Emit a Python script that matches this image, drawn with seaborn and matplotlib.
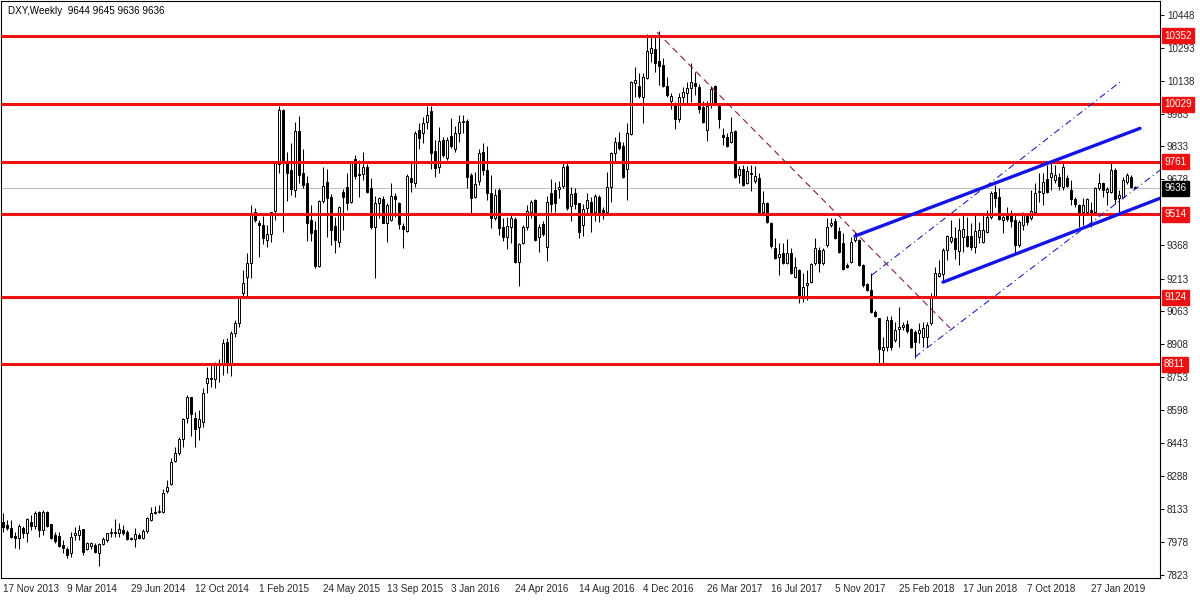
import matplotlib
matplotlib.use("Agg")
import matplotlib.pyplot as plt
import matplotlib.transforms as mtransforms
import numpy as np
import seaborn as sns

symbol = "DXY,Weekly"
last_quote = [9644, 9645, 9636, 9636]

# weekly candles, prices x100 (first bar: week of 17 Nov 2013)
opens = [
    8073, 8057, 8045, 8006, 7995, 8045, 8021, 8073, 8053, 8120, 8034, 8120,
    8062, 8010, 8006, 7964, 7943, 7925, 8010, 8010, 8037, 7943, 7959, 7964,
    7928, 7968, 7987, 8021, 8021, 8018, 8034, 8026, 7990, 7990, 8010, 7995,
    8031, 8081, 8112, 8120, 8120, 8215, 8250, 8359, 8393, 8459, 8557, 8656,
    8557, 8515, 8542, 8721, 8745, 8740, 8807, 8815, 8917, 8812, 8959, 9006,
    9143, 9221, 9284, 9526, 9474, 9464, 9393, 9424, 9531, 9750, 10003, 9753,
    9721, 9628, 9906, 9706, 9659, 9487, 9440, 9271, 9578, 9667, 9593, 9459,
    9385, 9620, 9640, 9573, 9771, 9702, 9702, 9737, 9636, 9453, 9565, 9584,
    9475, 9487, 9600, 9568, 9459, 9437, 9682, 9662, 9909, 9893, 9948, 9999,
    9810, 9734, 9862, 9776, 9881, 9818, 9893, 9948, 9952, 9698, 9596, 9671,
    9807, 9721, 9612, 9495, 9628, 9453, 9406, 9453, 9490, 9292, 9381, 9453,
    9526, 9581, 9406, 9468, 9362, 9615, 9628, 9631, 9646, 9740, 9553, 9612,
    9565, 9464, 9542, 9573, 9526, 9596, 9534, 9526, 9643, 9800, 9854, 9834,
    9725, 9890, 10131, 10115, 10065, 10151, 10271, 10287, 10234, 10214, 10115, 10046,
    10026, 9959, 10065, 10081, 10104, 10131, 10112, 10018, 9909, 10037, 10115, 10021,
    9886, 9878, 9854, 9906, 9698, 9725, 9659, 9709, 9671, 9682, 9526, 9568,
    9474, 9354, 9312, 9334, 9287, 9334, 9218, 9253, 9131, 9182, 9198, 9287,
    9346, 9284, 9370, 9464, 9484, 9437, 9378, 9276, 9292, 9393, 9393, 9276,
    9187, 9159, 9057, 9026, 8878, 8893, 9018, 8925, 8975, 8984, 8999, 8975,
    8964, 8956, 8940, 8940, 9006, 9128, 9225, 9234, 9346, 9390, 9401, 9343,
    9409, 9412, 9412, 9359, 9406, 9386, 9432, 9500, 9620, 9593, 9487, 9511,
    9506, 9487, 9370, 9464, 9506, 9495, 9526, 9620, 9612, 9678, 9687, 9675,
    9690, 9643, 9682, 9628, 9584, 9557, 9526, 9526, 9534, 9526, 9636, 9662,
    9620, 9620, 9721, 9589, 9596, 9667, 9690, 9644,
]
highs = [
    8112, 8081, 8081, 8026, 8060, 8053, 8090, 8104, 8125, 8125, 8128, 8125,
    8062, 8026, 8026, 7987, 7953, 8026, 8050, 8057, 8037, 7979, 7979, 7971,
    7971, 8003, 8021, 8042, 8085, 8065, 8057, 8034, 8000, 8042, 8018, 8037,
    8096, 8143, 8148, 8151, 8225, 8268, 8370, 8425, 8471, 8557, 8667, 8659,
    8589, 8596, 8698, 8800, 8815, 8823, 8834, 8928, 8932, 8968, 9018, 9128,
    9253, 9334, 9557, 9542, 9487, 9506, 9464, 9526, 9760, 10021, 10010, 9807,
    9850, 9945, 9974, 9818, 9693, 9557, 9484, 9581, 9734, 9725, 9609, 9503,
    9553, 9631, 9706, 9760, 9792, 9768, 9807, 9750, 9682, 9600, 9596, 9600,
    9568, 9659, 9612, 9573, 9475, 9703, 9760, 9906, 9940, 9968, 10021, 10021,
    9862, 9921, 9878, 9875, 9964, 9928, 9979, 9979, 9960, 9709, 9714, 9818,
    9850, 9834, 9698, 9631, 9635, 9495, 9503, 9518, 9500, 9378, 9464, 9557,
    9581, 9585, 9468, 9484, 9600, 9678, 9667, 9671, 9753, 9753, 9640, 9635,
    9568, 9562, 9612, 9596, 9609, 9604, 9550, 9714, 9807, 9875, 9901, 9854,
    9943, 10140, 10206, 10175, 10175, 10359, 10346, 10354, 10375, 10245, 10156, 10081,
    10042, 10081, 10112, 10135, 10221, 10182, 10125, 10046, 10046, 10115, 10120, 10034,
    9917, 9896, 9968, 9910, 9740, 9745, 9740, 9745, 9740, 9709, 9625, 9573,
    9478, 9401, 9381, 9381, 9397, 9354, 9315, 9256, 9237, 9253, 9284, 9401,
    9362, 9354, 9495, 9495, 9495, 9456, 9425, 9284, 9409, 9430, 9396, 9280,
    9190, 9237, 9065, 9030, 8940, 9037, 9037, 9010, 9081, 9010, 9018, 8979,
    8972, 9003, 9010, 9010, 9143, 9268, 9300, 9354, 9417, 9487, 9456, 9495,
    9510, 9503, 9475, 9518, 9479, 9518, 9534, 9625, 9651, 9635, 9510, 9550,
    9534, 9518, 9487, 9526, 9521, 9628, 9659, 9706, 9706, 9745, 9753, 9745,
    9706, 9753, 9698, 9675, 9596, 9560, 9589, 9589, 9573, 9640, 9709, 9667,
    9643, 9756, 9729, 9628, 9690, 9706, 9698, 9645,
]
lows = [
    8026, 8034, 7995, 7948, 7943, 7995, 7979, 8034, 8037, 8003, 8010, 8046,
    7990, 7971, 7956, 7925, 7901, 7909, 7987, 7987, 7917, 7940, 7943, 7925,
    7865, 7964, 7979, 8003, 8003, 8003, 8010, 7987, 7987, 7956, 7990, 7990,
    8021, 8078, 8109, 8115, 8115, 8206, 8245, 8354, 8386, 8421, 8534, 8475,
    8425, 8456, 8515, 8675, 8706, 8698, 8729, 8760, 8768, 8756, 8940, 8984,
    9131, 9131, 9214, 9479, 9315, 9375, 9362, 9385, 9487, 9706, 9432, 9578,
    9604, 9593, 9662, 9635, 9390, 9390, 9260, 9265, 9568, 9409, 9370, 9331,
    9359, 9440, 9534, 9565, 9678, 9596, 9675, 9615, 9443, 9214, 9495, 9471,
    9385, 9484, 9500, 9443, 9354, 9432, 9620, 9640, 9818, 9850, 9912, 9725,
    9687, 9706, 9784, 9768, 9823, 9807, 9854, 9896, 9635, 9521, 9589, 9651,
    9698, 9581, 9448, 9487, 9417, 9390, 9350, 9378, 9287, 9178, 9375, 9440,
    9495, 9390, 9339, 9412, 9296, 9526, 9526, 9589, 9636, 9534, 9484, 9537,
    9401, 9412, 9510, 9432, 9484, 9479, 9490, 9510, 9573, 9753, 9815, 9682,
    9581, 9885, 10065, 10057, 9940, 10146, 10229, 10182, 10120, 10112, 10062, 10010,
    9912, 9948, 10026, 10034, 10042, 10073, 9990, 9940, 9859, 10011, 10026, 9917,
    9839, 9831, 9846, 9682, 9659, 9646, 9656, 9625, 9662, 9521, 9521, 9474,
    9354, 9303, 9229, 9281, 9281, 9234, 9214, 9096, 9104, 9112, 9190, 9276,
    9245, 9278, 9362, 9453, 9396, 9334, 9253, 9264, 9287, 9385, 9271, 9174,
    9156, 9053, 9034, 8815, 8815, 8875, 8878, 8917, 8893, 8971, 8956, 8885,
    8839, 8909, 8893, 8893, 8995, 9124, 9221, 9198, 9300, 9381, 9303, 9276,
    9339, 9359, 9346, 9331, 9378, 9378, 9428, 9490, 9550, 9487, 9425, 9484,
    9456, 9331, 9362, 9440, 9464, 9487, 9518, 9573, 9557, 9612, 9628, 9659,
    9628, 9628, 9643, 9557, 9550, 9453, 9464, 9518, 9456, 9521, 9628, 9596,
    9557, 9615, 9562, 9521, 9589, 9656, 9636, 9636,
]
closes = [
    8050, 8042, 8003, 7995, 8053, 8021, 8084, 8053, 8112, 8034, 8120, 8053,
    7995, 7984, 7959, 7948, 7917, 8003, 8021, 8034, 7932, 7971, 7975, 7932,
    7968, 7990, 8018, 8024, 8026, 8037, 8021, 7990, 7995, 8013, 7995, 8031,
    8089, 8115, 8120, 8125, 8209, 8234, 8354, 8397, 8459, 8553, 8656, 8578,
    8506, 8553, 8678, 8745, 8740, 8807, 8815, 8912, 8815, 8959, 9006, 9120,
    9193, 9284, 9515, 9487, 9464, 9401, 9421, 9526, 9753, 10003, 9753, 9706,
    9631, 9906, 9698, 9651, 9474, 9428, 9271, 9578, 9646, 9589, 9440, 9393,
    9550, 9596, 9565, 9756, 9693, 9696, 9734, 9620, 9456, 9568, 9589, 9475,
    9557, 9600, 9584, 9468, 9443, 9693, 9667, 9896, 9874, 9940, 9979, 9803,
    9729, 9859, 9792, 9862, 9834, 9893, 9948, 9952, 9690, 9589, 9656, 9800,
    9721, 9612, 9495, 9604, 9448, 9409, 9459, 9495, 9292, 9375, 9453, 9531,
    9573, 9393, 9456, 9421, 9573, 9562, 9568, 9640, 9734, 9542, 9609, 9562,
    9432, 9537, 9581, 9526, 9600, 9526, 9526, 9640, 9800, 9854, 9823, 9690,
    9893, 10135, 10143, 10068, 10156, 10281, 10292, 10225, 10209, 10115, 10073, 10068,
    9959, 10065, 10089, 10104, 10135, 10115, 10006, 9948, 10021, 10100, 10037, 9959,
    9875, 9834, 9901, 9690, 9725, 9651, 9718, 9703, 9693, 9526, 9565, 9479,
    9365, 9307, 9328, 9287, 9331, 9237, 9268, 9128, 9171, 9190, 9281, 9354,
    9284, 9346, 9456, 9471, 9401, 9339, 9256, 9268, 9385, 9417, 9276, 9182,
    9159, 9057, 9037, 8881, 8893, 9018, 8893, 8971, 8984, 8995, 8968, 8893,
    8917, 8971, 8979, 8995, 9128, 9237, 9237, 9346, 9412, 9406, 9350, 9440,
    9443, 9365, 9359, 9437, 9440, 9440, 9500, 9612, 9589, 9490, 9503, 9490,
    9484, 9370, 9479, 9521, 9479, 9531, 9612, 9625, 9667, 9620, 9706, 9698,
    9646, 9737, 9646, 9584, 9562, 9515, 9557, 9585, 9521, 9636, 9659, 9628,
    9631, 9721, 9584, 9604, 9675, 9698, 9643, 9636,
]

date_labels = [
    "17 Nov 2013", "9 Mar 2014", "29 Jun 2014", "12 Oct 2014", "1 Feb 2015",
    "24 May 2015", "13 Sep 2015", "3 Jan 2016", "24 Apr 2016", "14 Aug 2016",
    "4 Dec 2016", "26 Mar 2017", "16 Jul 2017", "5 Nov 2017", "25 Feb 2018",
    "17 Jun 2018", "7 Oct 2018", "27 Jan 2019",
]
price_ticks = [10448, 10293, 10138, 9983, 9833, 9678, 9368, 9213, 9063,
               8908, 8753, 8598, 8443, 8288, 8133, 7978, 7823]
levels = [10352, 10029, 9761, 9514, 9124, 8811]
current_price = 9636

# drawn objects: (bar index, price) end points
channel_upper = ([213, 284.25], [9412, 9917])
channel_lower = ([235, 289.25], [9196, 9589])
ray_upper = ([217.2, 279.25], [9229, 10134])
ray_lower = ([228, 289.25], [8845, 9721])
fall_line = ([163.5, 236.75], [10368, 8981])

sns.set_style("white")
plt.rcParams["font.family"] = ["Liberation Sans", "DejaVu Sans"]
FS = 7.1

fig = plt.figure(figsize=(12, 6), dpi=100)
ax = fig.add_axes([1 / 1200, 22 / 600, 1159 / 1200, 577 / 600])

x = np.arange(len(closes))
o = np.array(opens)
c = np.array(closes)

ax.axhline(current_price, color="#c0c0c0", lw=0.8, zorder=1)

# candles
ax.vlines(x, lows, highs, color="black", lw=0.75, zorder=2)
up = c >= o
body_low = np.minimum(o, c)
body_h = np.maximum(np.abs(c - o), 2)
ax.bar(x[up], body_h[up], bottom=body_low[up], width=0.55,
       color="white", edgecolor="black", linewidth=0.7, zorder=3)
ax.bar(x[~up], body_h[~up], bottom=body_low[~up], width=0.55,
       color="black", edgecolor="black", linewidth=0.7, zorder=3)

# support / resistance levels
for lv in levels:
    ax.axhline(lv, color="#ee1111", lw=2.2, zorder=4)

# trend objects
sns.lineplot(x=fall_line[0], y=fall_line[1], ax=ax, color="#8b1a4a",
             lw=0.8, dashes=(6, 4), zorder=5)
sns.lineplot(x=ray_upper[0], y=ray_upper[1], ax=ax, color="#2020c8",
             lw=0.8, dashes=(6, 3, 1, 3), zorder=5)
sns.lineplot(x=ray_lower[0], y=ray_lower[1], ax=ax, color="#2020c8",
             lw=0.8, dashes=(6, 3, 1, 3), zorder=5)
sns.lineplot(x=channel_upper[0], y=channel_upper[1], ax=ax, color="#1414e6",
             lw=2.4, zorder=6)
sns.lineplot(x=channel_lower[0], y=channel_lower[1], ax=ax, color="#1414e6",
             lw=2.4, zorder=6)

ax.set_xlim(-0.5, 289.25)
ax.set_ylim(7809, 10514)

ax.yaxis.tick_right()
ax.set_yticks(price_ticks)
ax.set_yticklabels([str(t) for t in price_ticks], fontsize=FS)
ax.set_xticks(np.arange(len(date_labels)) * 16)
ax.set_xticklabels(date_labels, fontsize=FS, ha="left")
ax.tick_params(axis="both", direction="out", length=3, width=0.7,
               color="black", pad=2)
ax.tick_params(axis="x", pad=1.5)
ax.set_xlabel("")
ax.set_ylabel("")
for s in ax.spines.values():
    s.set_color("black")
    s.set_linewidth(0.8)

# price boxes on the right scale
trans = mtransforms.blended_transform_factory(ax.transAxes, ax.transData)
for lv in levels:
    ax.text(1.0035, lv, str(lv), transform=trans, ha="left", va="center",
            fontsize=FS, color="white", zorder=10, clip_on=False,
            bbox=dict(boxstyle="square,pad=0.25", fc="#ee1111", ec="#ee1111"))
ax.text(1.0035, current_price, str(current_price), transform=trans,
        ha="left", va="center", fontsize=FS, color="white", zorder=10,
        clip_on=False,
        bbox=dict(boxstyle="square,pad=0.25", fc="black", ec="black"))

ax.text(0.006, 0.992, symbol + "  " + " ".join(str(v) for v in last_quote),
        transform=ax.transAxes, ha="left", va="top", fontsize=FS,
        color="black")

fig.savefig("out.png", dpi=100)
